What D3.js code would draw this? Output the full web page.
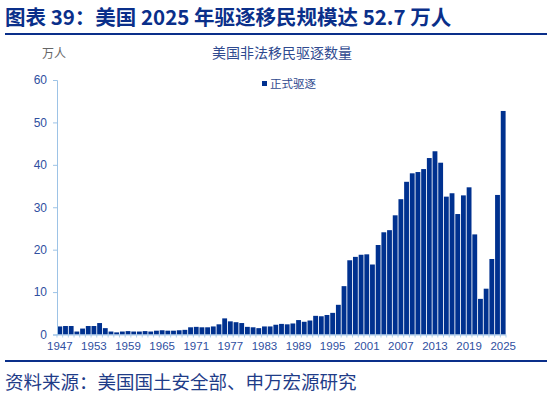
<!DOCTYPE html>
<html><head><meta charset="utf-8">
<script src="https://cdn.jsdelivr.net/npm/d3@7"></script>
<style>body{margin:0;background:#fff}svg{display:block}</style>
</head><body>
<svg id="c" width="550" height="400"></svg>
<script>
const years = d3.range(1947, 2026);
const removals = [1.9,2.0,2.0,0.7,1.4,2.0,2.0,2.7,1.5,0.7,
  0.5,0.7,0.8,0.7,0.7,0.8,0.7,0.9,1.0,0.9,
  0.9,1.0,1.1,1.7,1.8,1.7,1.7,1.9,2.4,3.8,
  3.1,2.9,2.7,1.8,1.7,1.5,1.9,1.9,2.3,2.5,
  2.4,2.6,3.4,3.0,3.3,4.4,4.3,4.6,5.1,7.0,
  11.4,17.5,18.3,18.8,18.9,16.5,21.1,24.1,24.6,28.1,
  31.9,36.0,38.0,38.3,39.0,41.6,43.2,40.5,32.5,33.3,
  28.4,32.8,34.7,23.6,8.4,10.8,17.8,32.9,52.7];
const yTicks = [0,10,20,30,40,50,60];
const xLabels = d3.range(1947, 2026, 6);
const titleText = "图表 39：美国 2025 年驱逐移民规模达 52.7 万人";
const chartTitle = "美国非法移民驱逐数量";
const unitText = "万人";
const legendText = "正式驱逐";
const sourceText = "资料来源：美国国土安全部、申万宏源研究";

const svg = d3.select("#c");
const cjk = "'Noto Sans CJK SC','Liberation Sans',sans-serif";
const num = "'Liberation Sans','Noto Sans CJK SC',sans-serif";
const barColor = "#00318f";
const axisColor = "#9dc3e6";
const tickText = "#2f4f9f";

svg.append("text").attr("x", 5).attr("y", 25)
  .attr("font-family", cjk).attr("font-weight", "bold").attr("font-size", 20.5)
  .attr("fill", "#0a2f8a").text(titleText);
svg.append("rect").attr("x", 5).attr("y", 33).attr("width", 542).attr("height", 2).attr("fill", "#0a2f8a");

svg.append("text").attr("x", 42).attr("y", 58).attr("font-family", cjk).attr("font-size", 12)
  .attr("fill", "#666").text(unitText);
svg.append("text").attr("x", 282).attr("y", 58).attr("text-anchor", "middle")
  .attr("font-family", cjk).attr("font-size", 14).attr("fill", "#2f4a8f").text(chartTitle);

const x = d3.scaleBand().domain(years).range([57, 506]).paddingInner(0.15).paddingOuter(0.07);
const y = d3.scaleLinear().domain([0, 60]).range([334.5, 80]);

svg.append("g").selectAll("rect").data(years).join("rect")
  .attr("x", (d) => x(d)).attr("width", x.bandwidth())
  .attr("y", (d, i) => y(removals[i])).attr("height", (d, i) => y(0) - y(removals[i]))
  .attr("fill", barColor);

const ya = svg.append("g").attr("transform", "translate(57,0)")
  .call(d3.axisLeft(y).tickValues(yTicks).tickSize(4).tickPadding(6));
ya.select(".domain").attr("stroke", axisColor);
ya.selectAll(".tick line").attr("stroke", axisColor);
ya.selectAll("text").attr("font-family", num).attr("font-size", 12).attr("fill", tickText);

const xa = svg.append("g").attr("transform", `translate(0,${y(0)})`)
  .call(d3.axisBottom(x).tickValues(xLabels).tickSize(0).tickPadding(7));
xa.select(".domain").attr("stroke", axisColor).attr("d", `M57,0.5H506`);
xa.selectAll("text").attr("font-family", num).attr("font-size", 11.5).attr("fill", tickText);
svg.append("g").selectAll("line").data(years.concat(["end"])).join("line")
  .attr("x1", (d) => d === "end" ? 506 : x(d) - x.step() * x.paddingInner() / 2)
  .attr("x2", (d) => d === "end" ? 506 : x(d) - x.step() * x.paddingInner() / 2)
  .attr("y1", y(0)).attr("y2", y(0) + 3).attr("stroke", axisColor).attr("stroke-width", 0.8);

svg.append("rect").attr("x", 262).attr("y", 81).attr("width", 5).attr("height", 5).attr("fill", barColor);
svg.append("text").attr("x", 270).attr("y", 88).attr("font-family", cjk).attr("font-size", 11.5)
  .attr("fill", "#2f4a8f").text(legendText);

svg.append("rect").attr("x", 5).attr("y", 360).attr("width", 542).attr("height", 2).attr("fill", "#0a2f8a");
svg.append("text").attr("x", 5).attr("y", 389).attr("font-family", cjk).attr("font-size", 18.5)
  .attr("fill", "#1f3c88").text(sourceText);
</script>
</body></html>
